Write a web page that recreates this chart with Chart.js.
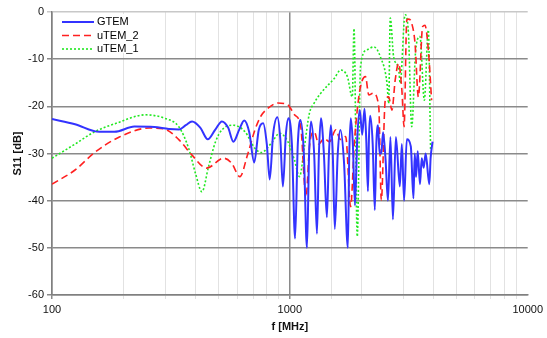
<!DOCTYPE html>
<html>
<head>
<meta charset="utf-8">
<script src="https://cdn.jsdelivr.net/npm/chart.js@4.4.1/dist/chart.umd.min.js"></script>
<style>
  html, body { margin: 0; padding: 0; background: #fff; }
</style>
</head>
<body>
<canvas id="chart" width="547" height="338"></canvas>
<script>
// values (f in MHz, S11 in dB)
const seriesNames = ["GTEM", "uTEM_2", "uTEM_1"];
const xLabels = [100, 1000, 10000];

const gtemFreq = [100, 125, 158, 183, 222, 269, 310, 342, 365, 388, 420, 452, 485, 518, 550, 579, 612, 643, 675, 708, 740, 772, 800, 823, 850, 886, 912, 935, 962, 987, 1020, 1052, 1080, 1108, 1145, 1180, 1205, 1227, 1265, 1300, 1325, 1351, 1390, 1431, 1460, 1487, 1515, 1545, 1590, 1631, 1690, 1753, 1778, 1804, 1840, 1878, 1920, 1967, 2015, 2060, 2095, 2130, 2150, 2176, 2230, 2276, 2310, 2349, 2384, 2424, 2465, 2524, 2585, 2648, 2712, 2791, 2900, 2957, 3022, 3102, 3225, 3308, 3350, 3392, 3448, 3525, 3584, 3652, 3723, 3858, 3906, 3981];
const gtemDb = [-22.7, -23.8, -25.4, -25.4, -24.3, -24.4, -24.8, -24.9, -24.0, -23.2, -24.5, -27.0, -25.0, -23.2, -24.5, -27.5, -25.0, -23.0, -25.5, -31.9, -25.0, -23.6, -28.0, -35.5, -26.0, -22.3, -27.0, -37.0, -26.0, -22.5, -28.0, -48.0, -28.0, -22.9, -30.0, -50.0, -30.0, -23.2, -30.0, -47.0, -30.0, -22.5, -30.0, -43.5, -30.0, -24.0, -30.0, -46.0, -30.0, -25.0, -32.0, -50.0, -30.0, -22.5, -28.0, -41.0, -27.0, -20.8, -26.0, -20.5, -27.0, -38.0, -27.0, -22.0, -28.0, -42.0, -28.0, -24.0, -30.0, -30.0, -25.5, -31.0, -40.0, -26.5, -44.0, -26.5, -37.0, -28.0, -40.0, -27.0, -28.5, -39.5, -30.0, -35.0, -29.5, -36.5, -31.0, -33.0, -30.0, -36.5, -31.0, -27.5];

const utem2Freq = [100, 125, 151, 192, 256, 296, 342, 387, 447, 526, 568, 617, 662, 713, 757, 810, 891, 981, 1046, 1111, 1169, 1212, 1267, 1321, 1395, 1468, 1560, 1631, 1717, 1801, 1866, 1920, 1982, 2079, 2148, 2239, 2365, 2424, 2519, 2603, 2686, 2773, 2865, 2957, 3022, 3102, 3162, 3254, 3359, 3470, 3617, 3698, 3821, 3944];
const utem2Db = [-36.5, -33.5, -29.8, -26.5, -24.6, -24.8, -27.1, -30.3, -33.1, -31.0, -32.0, -34.9, -30.5, -25.0, -22.0, -20.4, -19.3, -19.7, -21.8, -24.3, -39.2, -28.0, -25.4, -28.0, -26.8, -27.5, -25.0, -27.0, -26.4, -41.3, -28.0, -20.8, -15.8, -13.7, -17.6, -17.2, -20.1, -39.9, -18.7, -18.0, -20.8, -14.4, -10.9, -16.5, -24.3, -1.7, -1.5, -2.4, -6.6, -18.0, -3.1, -2.8, -8.0, -18.7];

const utem1Freq = [100, 125, 151, 186, 248, 296, 342, 376, 401, 427, 455, 487, 518, 579, 648, 713, 759, 836, 906, 981, 1046, 1098, 1151, 1208, 1259, 1350, 1536, 1636, 1745, 1830, 1861, 1920, 1982, 2113, 2254, 2402, 2561, 2603, 2643, 2731, 2865, 2910, 3051, 3152, 3254, 3382, 3525, 3676, 3821, 3906];
const utem1Db = [-31.0, -28.0, -25.4, -23.6, -21.8, -22.5, -24.4, -29.0, -34.2, -38.1, -32.8, -27.5, -25.0, -24.0, -25.4, -28.9, -29.8, -27.8, -25.7, -27.5, -31.4, -34.9, -28.6, -21.5, -19.5, -17.2, -14.1, -12.3, -13.7, -18.0, -3.5, -47.6, -11.6, -8.0, -7.4, -9.5, -15.1, -19.4, -1.3, -9.5, -12.0, -15.1, -0.6, -4.5, -24.3, -8.0, -5.2, -18.7, -3.8, -29.3];

const toPoints = (fs, ds) => fs.map((f, i) => ({ x: f, y: ds[i] }));
const isDecade = (v) => xLabels.includes(v);

// legend drawn inside the plot, top left, like the original
const insideLegend = {
    id: "insideLegend",
    afterDatasetsDraw(chart) {
        const ctx = chart.ctx;
        const a = chart.chartArea;
        ctx.save();
        ctx.fillStyle = "#fff";
        ctx.fillRect(a.left + 2, a.top + 2, 88, 39);
        ctx.font = "11px 'Liberation Sans', Arial, sans-serif";
        ctx.textBaseline = "middle";
        chart.data.datasets.forEach((ds, i) => {
            const y = a.top + 10 + i * 13.5;
            ctx.strokeStyle = ds.borderColor;
            ctx.lineWidth = ds.borderWidth;
            ctx.setLineDash(ds.borderDash || []);
            ctx.beginPath();
            ctx.moveTo(a.left + 10, y);
            ctx.lineTo(a.left + 42, y);
            ctx.stroke();
            ctx.setLineDash([]);
            ctx.fillStyle = "#000";
            ctx.fillText(ds.label, a.left + 45, y);
        });
        ctx.restore();
    },
};

const gridColor = (c) => {
    if (!c.tick) return "#e2e2e2";
    if (c.tick.value === 10000) return "rgba(0,0,0,0)";
    return isDecade(c.tick.value) ? "#8a8a8a" : "#e2e2e2";
};

new Chart(document.getElementById("chart"), {
    type: "line",
    data: {
        datasets: [
            {
                label: seriesNames[0],
                data: toPoints(gtemFreq, gtemDb),
                borderColor: "#3333ff",
                borderWidth: 2,
            },
            {
                label: seriesNames[1],
                data: toPoints(utem2Freq, utem2Db),
                borderColor: "#ff2020",
                borderWidth: 1.6,
                borderDash: [7, 4],
            },
            {
                label: seriesNames[2],
                data: toPoints(utem1Freq, utem1Db),
                borderColor: "#22e822",
                borderWidth: 1.6,
                borderDash: [2, 2],
            },
        ],
    },
    options: {
        responsive: false,
        animation: false,
        devicePixelRatio: 1,
        layout: { padding: { top: 12, right: 15, left: 0, bottom: 0 } },
        elements: {
            point: { radius: 0 },
            line: { cubicInterpolationMode: "monotone", fill: false },
        },
        plugins: { legend: { display: false }, tooltip: { enabled: false } },
        scales: {
            x: {
                type: "logarithmic",
                min: 100,
                max: 10000,
                afterFit: (s) => { s.height = 43; },
                border: { color: "#808080", width: 1.5 },
                grid: {
                    color: gridColor,
                    lineWidth: (c) => (c.tick && isDecade(c.tick.value) ? 1.5 : 1),
                    tickLength: 4,
                },
                ticks: {
                    autoSkip: false,
                    maxRotation: 0,
                    padding: 4,
                    color: "#111",
                    font: { family: "'Liberation Sans', Arial, sans-serif", size: 11 },
                    callback: (v) => (isDecade(v) ? String(v) : ""),
                },
                title: {
                    display: true,
                    text: "f [MHz]",
                    color: "#111",
                    padding: 4,
                    font: { family: "'Liberation Sans', Arial, sans-serif", size: 11, weight: "bold" },
                },
            },
            y: {
                min: -60,
                max: 0,
                afterFit: (s) => { s.width = 52; },
                border: { color: "#808080", width: 1.5 },
                grid: {
                    color: (c) => (c.tick && c.tick.value === 0 ? "#c8c8c8" : "#8a8a8a"),
                    lineWidth: 1.5,
                    tickLength: 5,
                },
                ticks: {
                    stepSize: 10,
                    padding: 3,
                    color: "#111",
                    font: { family: "'Liberation Sans', Arial, sans-serif", size: 11 },
                },
                title: {
                    display: true,
                    text: "S11 [dB]",
                    color: "#111",
                    padding: 11,
                    font: { family: "'Liberation Sans', Arial, sans-serif", size: 11, weight: "bold" },
                },
            },
        },
    },
    plugins: [insideLegend],
});
</script>
</body>
</html>
